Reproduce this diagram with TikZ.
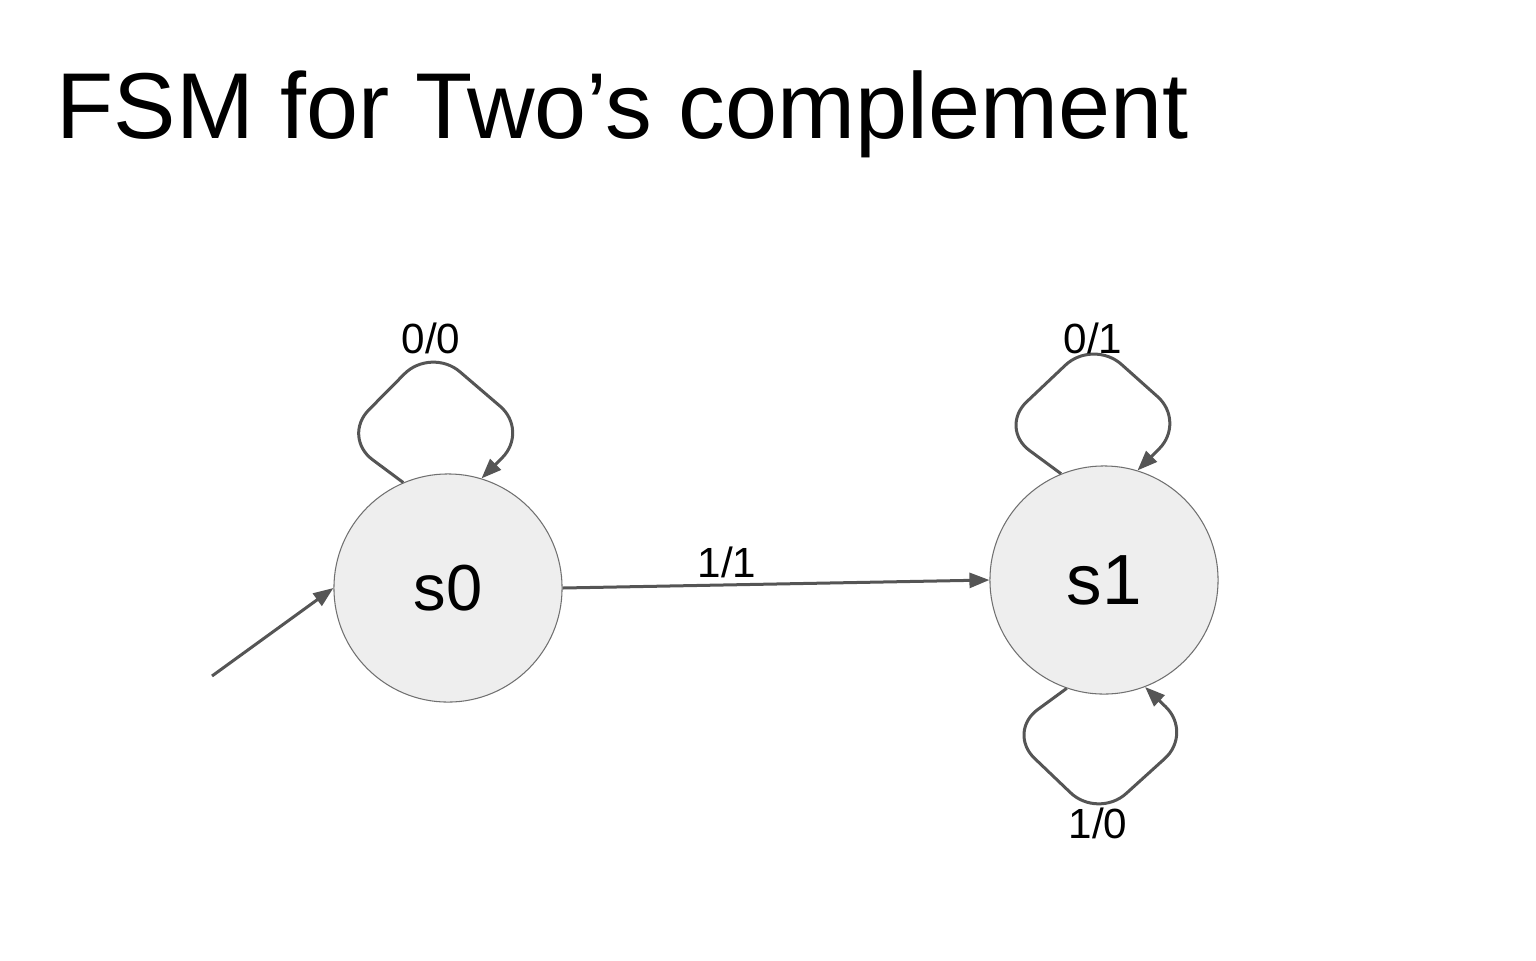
\documentclass[tikz,border=0pt]{standalone}
\usepackage{fontspec}
\setmainfont{Liberation Sans}
\usepackage{tikz}
\usetikzlibrary{calc, arrows.meta}
\definecolor{statefill}{HTML}{EEEEEE}
\definecolor{stateline}{HTML}{707070}
\definecolor{edgeline}{HTML}{555555}
\tikzstyle{state} = [circle, draw=stateline, line width=0.3pt, fill=statefill, minimum size=2.28cm, inner sep=0pt]
\tikzstyle{trans} = [draw=edgeline, line width=0.03cm, rounded corners=0.38cm, -{Triangle[length=0.2cm, width=0.15cm]}]
\tikzstyle{lbl} = [inner sep=0pt, anchor=base, font=\fontsize{12}{14}\selectfont]

\begin{document}
\begin{tikzpicture}[x=0.01cm, y=-0.01cm]

        \useasboundingbox (0,0) rectangle (1536,960);

        \node (title) [anchor=base west, inner sep=0pt, font=\fontsize{26.6}{30}\selectfont] at (56,138) {FSM for Two’s complement};

        \node (s0) [state, font=\fontsize{18.5}{22}\selectfont] at (448,588) {s0};
        \node (s1) [state, font=\fontsize{20.2}{24}\selectfont] at (1104,580) {s1};

        \coordinate (init) at (212,676);

        \draw[trans] (init) -- (s0.180);
        \draw[trans] (s0.east) -- node[lbl, pos=0.385, yshift=0.07cm] {1/1} (s1.west);

        \draw[trans] (s0.113) -- (342,437) -- (431,347) node[lbl, yshift=-0.06cm] {0/0} -- (529,431) -- (s0.73);
        \draw[trans] (s1.112) -- (999,428) -- (1093,339) node[lbl, yshift=-0.14cm] {0/1} -- (1186,422) -- (s1.73);
        \draw[trans] (s1.251) -- (1007,732) -- (1098,819) node[lbl, yshift=-0.19cm] {1/0} -- (1193,733) -- (s1.291);

    \end{tikzpicture}
\end{document}
